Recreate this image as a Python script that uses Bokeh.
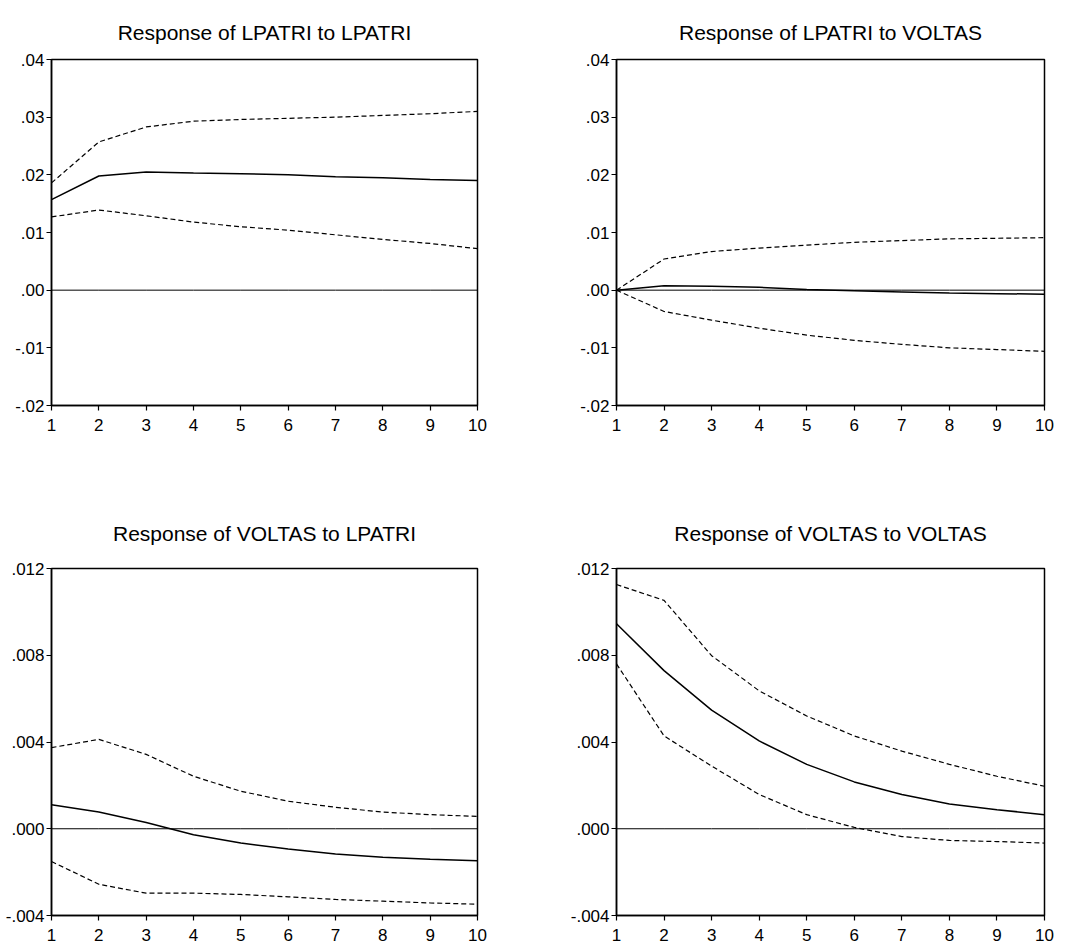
from bokeh.plotting import figure
from bokeh.layouts import gridplot
from bokeh.models import Range1d, FixedTicker, CustomJSTickFormatter
from bokeh.embed import file_html
from bokeh.resources import INLINE

periods = [1, 2, 3, 4, 5, 6, 7, 8, 9, 10]

# Response of LPATRI to LPATRI
ll_resp = [0.0157, 0.0198, 0.0205, 0.0203, 0.0202, 0.0200, 0.01965, 0.0195, 0.0192, 0.0190]
ll_upper = [0.0186, 0.0257, 0.0283, 0.0293, 0.0296, 0.0298, 0.0300, 0.0303, 0.0306, 0.0310]
ll_lower = [0.0127, 0.0139, 0.0129, 0.0118, 0.0110, 0.0104, 0.0096, 0.0088, 0.0081, 0.0072]

# Response of LPATRI to VOLTAS
lv_resp = [0.0, 0.00075, 0.0007, 0.0005, 0.0001, -0.0001, -0.0003, -0.0005, -0.0006, -0.0007]
lv_upper = [0.0, 0.0054, 0.0067, 0.0073, 0.0078, 0.0083, 0.0086, 0.0089, 0.0090, 0.0091]
lv_lower = [0.0, -0.0037, -0.0052, -0.0066, -0.0078, -0.0087, -0.0094, -0.0100, -0.0103, -0.0106]

# Response of VOLTAS to LPATRI
vl_resp = [0.00111, 0.00077, 0.00029, -0.00028, -0.00066, -0.00093, -0.00116, -0.00131, -0.00141, -0.00147]
vl_upper = [0.00374, 0.00412, 0.00343, 0.00242, 0.00173, 0.00127, 0.00099, 0.00077, 0.00065, 0.00057]
vl_lower = [-0.00151, -0.00256, -0.00297, -0.00297, -0.00303, -0.00314, -0.00326, -0.00334, -0.00342, -0.00348]

# Response of VOLTAS to VOLTAS
vv_resp = [0.00945, 0.00729, 0.00547, 0.00405, 0.00297, 0.00216, 0.00158, 0.00114, 0.00088, 0.00065]
vv_upper = [0.01126, 0.01053, 0.00798, 0.00636, 0.0052, 0.00428, 0.00358, 0.00297, 0.00242, 0.00196]
vv_lower = [0.0076, 0.00428, 0.00289, 0.00158, 0.00065, 0.00006, -0.00036, -0.00054, -0.00059, -0.00066]

top_yticks = [-0.02, -0.01, 0.0, 0.01, 0.02, 0.03, 0.04]
top_ylabels = ["-.02", "-.01", ".00", ".01", ".02", ".03", ".04"]
bot_yticks = [-0.004, 0.0, 0.004, 0.008, 0.012]
bot_ylabels = ["-.004", ".000", ".004", ".008", ".012"]

titles = ["Response of LPATRI to LPATRI", "Response of LPATRI to VOLTAS",
          "Response of VOLTAS to LPATRI", "Response of VOLTAS to VOLTAS"]

FONT = "Liberation Sans"


def make_panel(title, resp, upper, lower, yticks, ylabels, borders, title_pad):
    left, right, top, bottom = borders
    p = figure(width=534, height=473, output_backend="svg", toolbar_location=None,
               x_range=Range1d(periods[0], periods[-1]),
               y_range=Range1d(yticks[0], yticks[-1]),
               min_border_left=left, min_border_right=right,
               min_border_top=top, min_border_bottom=bottom,
               title=title)
    p.title.text_font = FONT
    p.title.text_font_size = "21px"
    p.title.text_font_style = "normal"
    p.title.text_color = "black"
    p.title.align = "center"
    p.title.vertical_align = "bottom"
    p.title.standoff = title_pad
    p.grid.visible = False
    p.outline_line_color = "black"
    p.outline_line_width = 1.5
    p.background_fill_color = "white"
    p.border_fill_color = "white"

    p.xaxis.ticker = FixedTicker(ticks=periods)
    p.yaxis.ticker = FixedTicker(ticks=yticks)
    p.yaxis.formatter = CustomJSTickFormatter(args=dict(tvals=yticks, tlabels=ylabels), code="""
        let best = 0; let bd = Infinity;
        for (let i = 0; i < tvals.length; i++) {
            const d = Math.abs(tvals[i] - tick);
            if (d < bd) { bd = d; best = i; }
        }
        return tlabels[best];
    """)
    for ax in (p.xaxis[0], p.yaxis[0]):
        ax.axis_line_color = "black"
        ax.axis_line_width = 1.5
        ax.major_tick_line_color = "black"
        ax.major_tick_line_width = 1.2
        ax.major_tick_in = 0
        ax.major_tick_out = 5
        ax.minor_tick_line_color = None
        ax.major_label_text_font = FONT
        ax.major_label_text_font_size = "17px"
        ax.major_label_text_color = "black"
    p.xaxis.major_label_standoff = 8
    p.yaxis.major_label_standoff = 2

    p.line(periods, [0] * len(periods), line_color="black", line_width=1)
    p.line(periods, upper, line_color="black", line_width=1.2, line_dash="5 3")
    p.line(periods, lower, line_color="black", line_width=1.2, line_dash="5 3")
    p.line(periods, resp, line_color="black", line_width=1.5)
    return p


p1 = make_panel(titles[0], ll_resp, ll_upper, ll_lower, top_yticks, top_ylabels, (51, 57, 58, 68), 32)
p2 = make_panel(titles[1], lv_resp, lv_upper, lv_lower, top_yticks, top_ylabels, (82, 24, 59, 67), 32)
p3 = make_panel(titles[2], vl_resp, vl_upper, vl_lower, bot_yticks, bot_ylabels, (51, 56, 94, 31), 48)
p4 = make_panel(titles[3], vv_resp, vv_upper, vv_lower, bot_yticks, bot_ylabels, (82, 23, 95, 31), 48)

grid = gridplot([[p1, p2], [p3, p4]], toolbar_location=None)

open("out.html", "w").write(file_html(grid, INLINE))
